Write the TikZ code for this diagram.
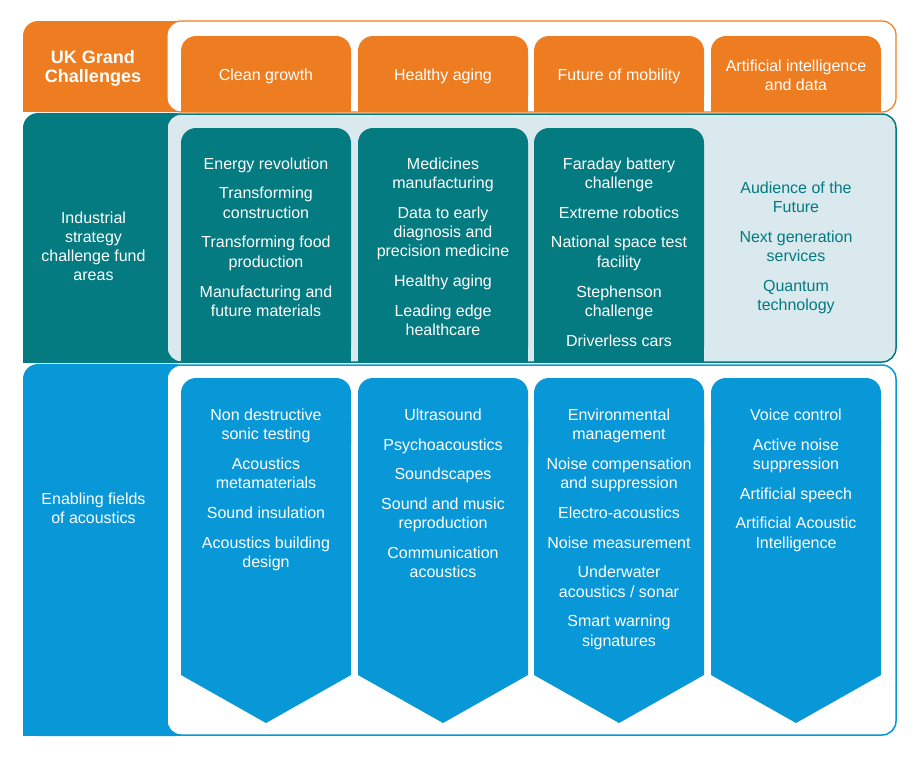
\documentclass[tikz,border=0pt]{standalone}
\usepackage{fontspec}
\setmainfont{Liberation Sans}
\usetikzlibrary{positioning}
\definecolor{ukorange}{RGB}{238,125,33}
\definecolor{ukteal}{RGB}{4,122,129}
\definecolor{ukpale}{RGB}{217,233,237}
\definecolor{ukblue}{RGB}{9,152,215}
\tikzset{
  lbl/.style={text=white,font=\fontsize{16}{19.2}\selectfont,align=center,inner sep=0pt,anchor=north},
  tabtop/.style={rounded corners=15pt},
  panel/.style={line width=1.5pt,rounded corners=14pt}
}
\begin{document}
\begin{tikzpicture}[line cap=round,line join=round,x=1pt,y=-1pt]
\useasboundingbox (0,0) rectangle (915,763);
% grand challenges
\fill [ukorange,tabtop] (23,21) rectangle (190,112);
\fill [ukorange] (23,60) rectangle (190,112);
\draw [ukorange,fill=white,panel,line width=1.2pt] (167,21) rectangle (896,112);
\fill [ukorange,tabtop] (181,36) rectangle (351,112);
\fill [ukorange] (181,80) rectangle (351,112);
\fill [ukorange,tabtop] (358,36) rectangle (528,112);
\fill [ukorange] (358,80) rectangle (528,112);
\fill [ukorange,tabtop] (534,36) rectangle (704,112);
\fill [ukorange] (534,80) rectangle (704,112);
\fill [ukorange,tabtop] (711,36) rectangle (881,112);
\fill [ukorange] (711,80) rectangle (881,112);
% challenge fund
\fill [ukteal,tabtop] (23,113) rectangle (190,363);
\fill [ukteal] (23,160) rectangle (190,363);
\draw [ukteal,fill=ukpale,panel] (167,114) rectangle (896,362);
\fill [ukteal,tabtop] (181,128) rectangle (351,362);
\fill [ukteal] (181,200) rectangle (351,362);
\fill [ukteal,tabtop] (358,128) rectangle (528,362);
\fill [ukteal] (358,200) rectangle (528,362);
\fill [ukteal,tabtop] (534,128) rectangle (704,362);
\fill [ukteal] (534,200) rectangle (704,362);
% acoustics
\fill [ukblue,tabtop] (23,364) rectangle (190,736);
\fill [ukblue] (23,420) rectangle (190,736);
\draw [ukblue,fill=white,panel] (167,365) rectangle (896,735);
\fill [ukblue,tabtop] (181,378) rectangle (351,460);
\fill [ukblue] (181,420) -- (351,420) -- (351,675) -- (266,723) -- (181,675) -- cycle;
\fill [ukblue,tabtop] (358,378) rectangle (528,460);
\fill [ukblue] (358,420) -- (528,420) -- (528,675) -- (443,723) -- (358,675) -- cycle;
\fill [ukblue,tabtop] (534,378) rectangle (704,460);
\fill [ukblue] (534,420) -- (704,420) -- (704,675) -- (619,723) -- (534,675) -- cycle;
\fill [ukblue,tabtop] (711,378) rectangle (881,460);
\fill [ukblue] (711,420) -- (881,420) -- (881,675) -- (796,723) -- (711,675) -- cycle;
% labels
\node [lbl,font=\bfseries\fontsize{18}{19}\selectfont] (grandch) at (93,50.3) {UK Grand\\Challenges};
\node [lbl,anchor=base] (cleangrowth) at (266,80) {Clean growth};
\node [lbl,anchor=base] (healthyaging) at (443,80) {Healthy aging};
\node [lbl,anchor=base] (mobility) at (619,80) {Future of mobility};
\node [lbl] (aidata) at (796,59.3) {Artificial intelligence\\and data};
\node [lbl] (fundareas) at (93.5,211.4) {Industrial\\strategy\\challenge fund\\areas};
\node [lbl] (cleanfund) at (266,157.4) {Energy revolution\\[10.6pt]Transforming\\construction\\[10.6pt]Transforming food\\production\\[10.6pt]Manufacturing and\\future materials};
\node [lbl] (healthfund) at (443,157.4) {Medicines\\manufacturing\\[10.6pt]Data to early\\diagnosis and\\precision medicine\\[10.6pt]Healthy aging\\[10.6pt]Leading edge\\healthcare};
\node [lbl] (mobilityfund) at (619,157.4) {Faraday battery\\challenge\\[10.6pt]Extreme robotics\\[10.6pt]National space test\\facility\\[10.6pt]Stephenson\\challenge\\[10.6pt]Driverless cars};
\node [lbl,text=ukteal] (aifund) at (796,181.4) {Audience of the\\Future\\[10.6pt]Next generation\\services\\[10.6pt]Quantum\\technology};
\node [lbl] (enabling) at (93.5,492.4) {Enabling fields\\of acoustics};
\node [lbl] (cleanac) at (266,408.4) {Non destructive\\sonic testing\\[10.6pt]Acoustics\\metamaterials\\[10.6pt]Sound insulation\\[10.6pt]Acoustics building\\design};
\node [lbl] (healthac) at (443,408.4) {Ultrasound\\[10.6pt]Psychoacoustics\\[10.6pt]Soundscapes\\[10.6pt]Sound and music\\reproduction\\[10.6pt]Communication\\acoustics};
\node [lbl] (mobilityac) at (619,408.4) {Environmental\\management\\[10.6pt]Noise compensation\\and suppression\\[10.6pt]Electro-acoustics\\[10.6pt]Noise measurement\\[10.6pt]Underwater\\acoustics / sonar\\[10.6pt]Smart warning\\signatures};
\node [lbl] (aiac) at (796,408.4) {Voice control\\[10.6pt]Active noise\\suppression\\[10.6pt]Artificial speech\\[10.6pt]Artificial Acoustic\\Intelligence};
\end{tikzpicture}
\end{document}
